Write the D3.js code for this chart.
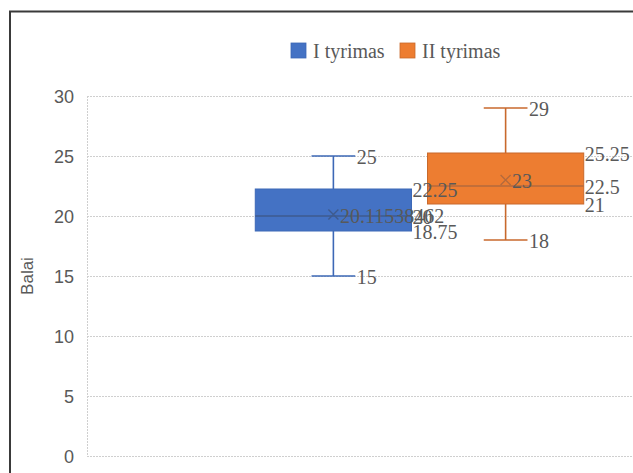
<!DOCTYPE html>
<html>
<head>
<meta charset="utf-8">
<script src="https://d3js.org/d3.v7.min.js"></script>
<style>
  html, body { margin: 0; padding: 0; background: #fff; overflow: hidden; }
  svg { display: block; }
</style>
</head>
<body>
<svg id="chart" width="633" height="473"></svg>
<script>
// ---- data ----
const categories = [""];
const series = ["I tyrimas", "II tyrimas"];
const minVals = [15, 18];
const q1Vals = [18.75, 21];
const medianVals = [20, 22.5];
const q3Vals = [22.25, 25.25];
const maxVals = [25, 29];
const meanVals = [20.11538462, 23];
const yTicks = [0, 5, 10, 15, 20, 25, 30];
const yTitle = "Balai";

const fills = ["#4472c4", "#ed7d31"];
const lines = ["#3d68b6", "#c8692c"];
const meanColors = ["#3e5b8f", "#b36a3c"];

const svg = d3.select("#chart");
const W = 633, H = 473;
const plot = { left: 87, right: 752, top: 96, bottom: 456 };

svg.append("rect").attr("width", W).attr("height", H).attr("fill", "#fff");
// outer chart frame (cropped on right/bottom)
svg.append("rect")
  .attr("x", 10).attr("y", 11.5).attr("width", 800).attr("height", 600)
  .attr("fill", "none").attr("stroke", "#3a3a3a").attr("stroke-width", 2);

const y = d3.scaleLinear().domain([0, 30]).range([plot.bottom, plot.top]);
const xCat = d3.scaleBand().domain(categories).range([plot.left, plot.right]);
const xSer = d3.scaleBand().domain(series).range([0, xCat.bandwidth()])
  .paddingInner(0.093).paddingOuter(0.977);

// gridlines
const grid = svg.append("g");
grid.selectAll("line.h").data(yTicks).join("line")
  .attr("x1", plot.left).attr("x2", W + 10)
  .attr("y1", d => Math.round(y(d)) + 0.5).attr("y2", d => Math.round(y(d)) + 0.5)
  .attr("stroke", "#cfcfcf").attr("stroke-width", 1).attr("stroke-dasharray", "2,1");
grid.append("line")
  .attr("x1", plot.left + 0.5).attr("x2", plot.left + 0.5)
  .attr("y1", plot.top).attr("y2", plot.bottom)
  .attr("stroke", "#cfcfcf").attr("stroke-width", 1).attr("stroke-dasharray", "2,1");

// y axis tick labels
const yAxis = d3.axisLeft(y).tickValues(yTicks).tickSize(0).tickPadding(13);
const ga = svg.append("g").attr("transform", `translate(${plot.left},0)`).call(yAxis);
ga.select(".domain").remove();
ga.selectAll("text")
  .attr("font-family", "'Liberation Sans', Arial, sans-serif")
  .attr("font-size", 18).attr("fill", "#595959").attr("dy", "0.38em");

// y title
svg.append("text")
  .attr("transform", `translate(33,${(plot.top + plot.bottom) / 2}) rotate(-90)`)
  .attr("text-anchor", "middle")
  .attr("font-family", "'Liberation Sans', Arial, sans-serif")
  .attr("font-size", 17).attr("fill", "#595959").text(yTitle);

// boxes
const data = series.map((s, i) => ({
  s, i, min: minVals[i], q1: q1Vals[i], med: medianVals[i], q3: q3Vals[i], max: maxVals[i], mean: meanVals[i]
}));

const gBox = svg.append("g");
const labels = [];
data.forEach(d => {
  const x0 = xCat(categories[0]) + xSer(d.s);
  const bw = xSer.bandwidth();
  const cx = x0 + bw / 2;
  const capW = bw * 0.28;
  const g = gBox.append("g");
  // whiskers
  g.append("line").attr("x1", cx).attr("x2", cx).attr("y1", y(d.q3)).attr("y2", y(d.max))
    .attr("stroke", lines[d.i]).attr("stroke-width", 1.6);
  g.append("line").attr("x1", cx).attr("x2", cx).attr("y1", y(d.q1)).attr("y2", y(d.min))
    .attr("stroke", lines[d.i]).attr("stroke-width", 1.6);
  [d.max, d.min].forEach(v => {
    g.append("line").attr("x1", cx - capW / 2).attr("x2", cx + capW / 2)
      .attr("y1", y(v)).attr("y2", y(v))
      .attr("stroke", lines[d.i]).attr("stroke-width", 1.6);
  });
  // box
  g.append("rect").attr("x", x0).attr("y", y(d.q3)).attr("width", bw).attr("height", y(d.q1) - y(d.q3))
    .attr("fill", fills[d.i]).attr("stroke", lines[d.i]).attr("stroke-width", 1);
  // median
  g.append("line").attr("x1", x0).attr("x2", x0 + bw).attr("y1", y(d.med)).attr("y2", y(d.med))
    .attr("stroke", meanColors[d.i]).attr("stroke-width", 1.3);
  // mean marker
  const m = 5, my = y(d.mean);
  g.append("path").attr("d", `M${cx - m},${my - m}L${cx + m},${my + m}M${cx - m},${my + m}L${cx + m},${my - m}`)
    .attr("stroke", meanColors[d.i]).attr("stroke-width", 1.4).attr("fill", "none");
  // labels
  labels.push({ x: cx + capW / 2 + 1.5, v: d.max, t: String(d.max) });
  labels.push({ x: cx + capW / 2 + 1.5, v: d.min, t: String(d.min) });
  labels.push({ x: x0 + bw + 1, v: d.q3, t: String(d.q3) });
  labels.push({ x: x0 + bw + 1, v: d.med, t: String(d.med) });
  labels.push({ x: x0 + bw + 1, v: d.q1, t: String(d.q1) });
  labels.push({ x: cx + 6.5, v: d.mean, t: String(d.mean) });
});

svg.append("g").selectAll("text").data(labels).join("text")
  .attr("x", d => d.x).attr("y", d => y(d.v) + 1)
  .attr("dy", "0.35em")
  .attr("font-family", "'Liberation Serif', 'Times New Roman', serif")
  .attr("font-size", 20).attr("fill", "#595959")
  .text(d => d.t);

// legend
const leg = svg.append("g");
const legX = [291, 400];
series.forEach((s, i) => {
  leg.append("rect").attr("x", legX[i]).attr("y", 43).attr("width", 15).attr("height", 15)
    .attr("fill", fills[i]).attr("stroke", lines[i]).attr("stroke-width", 0.8);
  leg.append("text").attr("x", legX[i] + 22).attr("y", 51).attr("dy", "0.35em")
    .attr("font-family", "'Liberation Serif', 'Times New Roman', serif")
    .attr("font-size", 20).attr("fill", "#595959").text(s);
});
</script>
</body>
</html>
